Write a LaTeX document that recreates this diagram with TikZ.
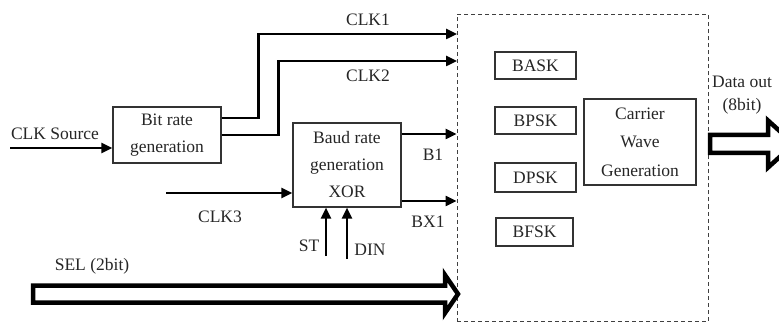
\documentclass[tikz,border=0pt]{standalone}
\usepackage{fontspec}
\setmainfont{Liberation Serif}
\usetikzlibrary{arrows.meta}
\begin{document}
\begin{tikzpicture}[x=1pt,y=-1pt,
  every node/.style={font=\fontsize{17.5}{27}\selectfont, text=black!85, inner sep=0pt},
  blockbox/.style={draw=black!80, line width=1.1pt, align=center},
  sig/.style={line width=2.4pt, -{Triangle[length=11pt,width=10pt]}},
  hollow/.style={draw=black, line width=4.5pt, fill=white, line join=miter},
  lbl/.style={}]
\useasboundingbox (0,0) rectangle (779,323);
\clip (0,0) rectangle (779,323);

% dashed frame
\node[draw=black!75, dashed, dash pattern=on 4pt off 3pt, line width=1pt,
      minimum width=251pt, minimum height=307pt] (frame) at (582.5,168) {};

% blocks
\node[blockbox, minimum width=108pt, minimum height=56pt] (bit) at (167,135) {Bit rate\\generation};
\node[blockbox, minimum width=108pt, minimum height=84pt] (baud) at (347,165) {Baud rate\\generation\\XOR};
\node[blockbox, minimum width=81pt, minimum height=27pt] (bask) at (535.5,65.5) {BASK};
\node[blockbox, minimum width=81pt, minimum height=27pt] (bpsk) at (535.5,120.5) {BPSK};
\node[blockbox, minimum width=81pt, minimum height=29pt] (dpsk) at (535.5,177.5) {DPSK};
\node[blockbox, minimum width=77pt, minimum height=28pt] (bfsk) at (534.5,232) {BFSK};
\node[blockbox, minimum width=112pt, minimum height=86pt, font=\fontsize{17.5}{28.5}\selectfont] (carrier) at (640,142) {Carrier\\Wave\\Generation};

% coordinates
\coordinate (srcs) at (10,148);
\coordinate (c1) at (457,34);
\coordinate (c2) at (457,61);
\coordinate (clk3s) at (166,193);
\coordinate (sts) at (326,256);
\coordinate (dins) at (347,259);

% connectors
\draw[sig] (srcs) -- (srcs -| bit.west);
\draw[sig] ([yshift=17pt]bit.east) -- ++(37,0) |- (c1);
\draw[sig] (bit.east) -- ++(57,0) |- (c2);
\draw[sig] ([yshift=31pt]baud.east) coordinate (b1s) -- (b1s -| frame.west);
\draw[sig] ([yshift=-36pt]baud.east) coordinate (bx1s) -- (bx1s -| frame.west);
\draw[sig] (clk3s) -- (clk3s -| baud.west);
\draw[sig] (sts) -- (sts |- baud.south);
\draw[sig] (dins) -- (dins |- baud.south);

% hollow bus arrows
\draw[hollow] (33,285.5) -- (445,285.5) -- (445,275) -- (458,294) -- (445,313) -- (445,302.5) -- (33,302.5) -- cycle;
\draw[hollow] (710,135) -- (768,135) -- (768,120.5) -- (794,144) -- (768,167.5) -- (768,153) -- (710,153) -- cycle;

% labels
\node[lbl] (lsrc) at (55,134) {CLK Source};
\node[lbl] (lclk1) at (368,20) {CLK1};
\node[lbl] (lclk2) at (368,76) {CLK2};
\node[lbl] (lb1) at (433,155) {B1};
\node[lbl] (lbx1) at (428,222) {BX1};
\node[lbl] (lclk3) at (220,217) {CLK3};
\node[lbl] (lst) at (309,246) {ST};
\node[lbl] (ldin) at (370,250) {DIN};
\node[lbl] (lsel) at (92,266) {SEL (2bit)};
\node[lbl] (ldata) at (742,82) {Data out};
\node[lbl] (l8bit) at (742,106) {(8bit)};
\end{tikzpicture}
\end{document}
